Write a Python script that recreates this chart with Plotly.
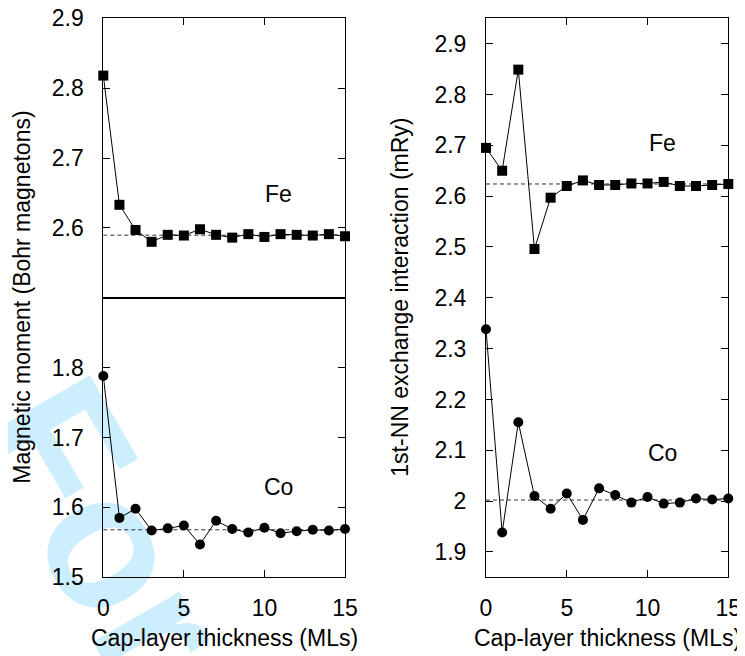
import math
import plotly.graph_objects as go

# page body has an 8px margin, so the figure is sized/positioned to fill the
# 745x656 window from (8, 8)
OFF = 8
W, H = 745 - OFF, 656 - OFF

# ---------------- data ----------------
cap_layers = list(range(16))

fe_moment = [2.818, 2.633, 2.597, 2.580, 2.590, 2.589, 2.598, 2.590, 2.586,
             2.591, 2.587, 2.591, 2.590, 2.589, 2.591, 2.588]
co_moment = [1.788, 1.585, 1.598, 1.567, 1.570, 1.574, 1.547, 1.581, 1.569,
             1.564, 1.571, 1.563, 1.566, 1.568, 1.567, 1.569]
fe_exchange = [2.695, 2.650, 2.849, 2.496, 2.597, 2.620, 2.631, 2.622, 2.622,
               2.625, 2.625, 2.628, 2.620, 2.620, 2.622, 2.624]
co_exchange = [2.338, 1.938, 2.155, 2.010, 1.985, 2.015, 1.963, 2.025, 2.012,
               1.997, 2.008, 1.995, 1.997, 2.005, 2.003, 2.005]

fe_moment_bulk = 2.5895
co_moment_bulk = 1.568
fe_exchange_bulk = 2.624
co_exchange_bulk = 2.002

x_ticks = [0, 5, 10, 15]
fe_moment_ticks = [2.6, 2.7, 2.8, 2.9]
co_moment_ticks = [1.5, 1.6, 1.7, 1.8]
exchange_ticks = [1.9, 2.0, 2.1, 2.2, 2.3, 2.4, 2.5, 2.6, 2.7, 2.8, 2.9]
exchange_ticktext = ["1.9", "2", "2.1", "2.2", "2.3", "2.4", "2.5", "2.6",
                     "2.7", "2.8", "2.9"]

# ---------------- layout helpers (screen px -> paper) ----------------
def px_x(p):
    return (p - OFF) / W

def px_y(p):
    return 1 - (p - OFF) / H

FONT = "Liberation Sans, Arial, sans-serif"
FS = 23
EPS = 1e-6

fig = go.Figure()

def add_series(x, y, sym, xa, ya, bulk):
    fig.add_trace(go.Scatter(x=[x[0], x[-1]], y=[bulk, bulk], mode="lines",
                             line=dict(color="#333333", width=1, dash="4px,3px"),
                             xaxis=xa, yaxis=ya, hoverinfo="skip", showlegend=False))
    fig.add_trace(go.Scatter(x=x, y=y, mode="lines+markers",
                             line=dict(color="black", width=1),
                             marker=dict(symbol=sym, size=10, color="black"),
                             xaxis=xa, yaxis=ya, showlegend=False, cliponaxis=False))

add_series(cap_layers, fe_moment, "square", "x", "y", fe_moment_bulk)
add_series(cap_layers, co_moment, "circle", "x2", "y2", co_moment_bulk)
add_series(cap_layers, fe_exchange, "square", "x3", "y3", fe_exchange_bulk)
add_series(cap_layers, co_exchange, "circle", "x3", "y3", co_exchange_bulk)

left_dom = [px_x(103.3), px_x(345.0)]
right_dom = [px_x(486.0), px_x(728.3)]
fe_dom = [px_y(297.7), px_y(18.3)]
co_dom = [px_y(577.3), px_y(297.7)]
r_dom = [px_y(577.3), px_y(18.3)]

axis_common = dict(showline=True, linecolor="black", linewidth=1, automargin=False,
                   showgrid=False, zeroline=False, ticks="inside", ticklen=7,
                   tickcolor="black", tickwidth=1, ticklabeloverflow="allow",
                   tickfont=dict(family=FONT, size=FS, color="black"))

fig.update_layout(
    width=W, height=H,
    margin=dict(l=0, r=0, t=0, b=0, autoexpand=False),
    paper_bgcolor="white", plot_bgcolor="rgba(0,0,0,0)",
    font=dict(family=FONT, size=FS, color="black"),
    xaxis=dict(domain=left_dom, range=[0, 15], anchor="y", side="top",
               tickvals=x_ticks, showticklabels=False, mirror=True, **axis_common),
    yaxis=dict(domain=fe_dom, range=[2.5, 2.9 + EPS], anchor="x",
               tickvals=fe_moment_ticks, ticktext=["2.6", "2.7", "2.8", "2.9"],
               mirror="ticks", ticklabelstandoff=14, **axis_common),
    xaxis2=dict(domain=left_dom, range=[0, 15], anchor="y2", tickvals=x_ticks,
                mirror=True, ticklabelstandoff=10, **axis_common),
    yaxis2=dict(domain=co_dom, range=[1.5 - EPS, 1.9], anchor="x2",
                tickvals=co_moment_ticks, mirror="ticks", ticklabelstandoff=14,
                **axis_common),
    xaxis3=dict(domain=right_dom, range=[0, 15], anchor="y3", tickvals=x_ticks,
                mirror="ticks", ticklabelstandoff=10, **axis_common),
    yaxis3=dict(domain=r_dom, range=[1.85, 2.95], anchor="x3", tickvals=exchange_ticks,
                ticktext=exchange_ticktext, mirror="ticks", ticklabelstandoff=14,
                **axis_common),
)

# watermark (drawn below everything)
cx, cy = 119.5, 520.0
ang = math.radians(60)
d = 20
fig.add_shape(type="line", xref="paper", yref="paper", layer="below",
              x0=px_x(cx - d * math.cos(ang)), y0=px_y(cy - d * math.sin(ang)),
              x1=px_x(cx + d * math.cos(ang)), y1=px_y(cy + d * math.sin(ang)),
              line=dict(width=0, color="rgba(0,0,0,0)"),
              label=dict(text="<b>For</b>", textposition="middle", yanchor="middle",
                         font=dict(family=FONT, size=190, color="#cdeefc")))

annots = [
    dict(x=10.9, y=2.649, xref="x", yref="y", text="Fe"),
    dict(x=10.9, y=1.629, xref="x2", yref="y2", text="Co"),
    dict(x=10.9, y=2.705, xref="x3", yref="y3", text="Fe"),
    dict(x=10.9, y=2.095, xref="x3", yref="y3", text="Co"),
    dict(x=px_x(224), y=px_y(638), xref="paper", yref="paper",
         text="Cap-layer thickness (MLs)"),
    dict(x=px_x(607), y=px_y(638), xref="paper", yref="paper",
         text="Cap-layer thickness (MLs)"),
    dict(x=px_x(22), y=px_y(297.7), xref="paper", yref="paper", textangle=-90,
         text="Magnetic moment (Bohr magnetons)"),
    dict(x=px_x(400), y=px_y(297.7), xref="paper", yref="paper", textangle=-90,
         text="1st-NN exchange interaction (mRy)"),
]
for a in annots:
    fig.add_annotation(showarrow=False, xanchor="center", yanchor="middle",
                       font=dict(family=FONT, size=FS, color="black"), **a)

fig.write_html("out.html")
